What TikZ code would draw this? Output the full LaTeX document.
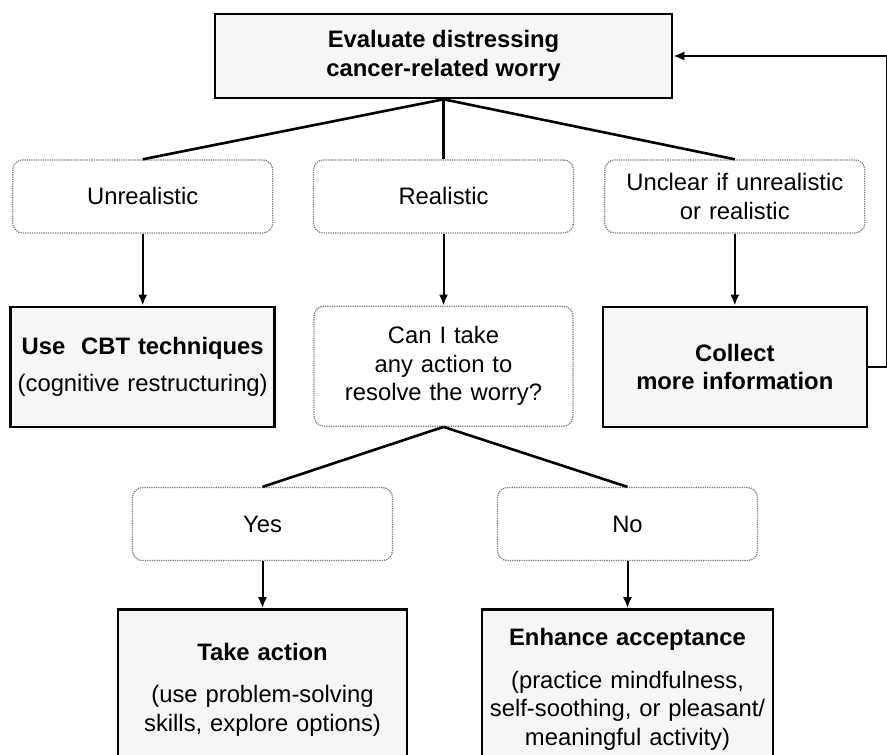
\documentclass[tikz,border=0pt]{standalone}
\usepackage{fontspec}
\setmainfont{Liberation Sans}
\usepackage{tikz}
\usetikzlibrary{arrows.meta,positioning,calc}

\begin{document}
\begin{tikzpicture}[x=1pt, y=1pt, node distance=60pt, auto,
    font=\fontsize{23.8}{28.5}\selectfont,
    >={Latex[length=11pt,width=9pt]},
    boxsolid/.style={rectangle, draw, line width=2.6pt, fill=gray!7, align=center, inner sep=3pt},
    boxdotted/.style={rectangle, draw=black!50, densely dotted, line width=1.3pt, rounded corners=10pt,
      fill=white, align=center, inner sep=3pt, minimum width=260pt, minimum height=73pt},
    link/.style={line width=2.6pt},
    arrow/.style={->, line width=2pt}]
  \useasboundingbox (0,0) rectangle (887,755);

  \node (eval) [boxsolid, minimum width=457pt, minimum height=84pt] at (443.5,699)
    {\textbf{Evaluate distressing}\\\textbf{cancer-related worry}};
  \node (real) [boxdotted, below=60pt of eval] {Realistic};
  \node (unreal) [boxdotted, left=39.5pt of real] {Unrealistic};
  \node (unclear) [boxdotted, right=30pt of real, text width=250pt] {Unclear if unrealistic\\or realistic};

  \node (cbt) [boxsolid, below=72pt of unreal, minimum width=264pt, minimum height=120pt, text width=256pt]
    {\textbf{Use\ \ CBT techniques}\\[9pt](cognitive restructuring)};
  \node (action) [boxdotted, below=72pt of real, minimum width=259pt, minimum height=120pt, text width=250pt]
    {Can I take\\any action to\\resolve the worry?};
  \node (collect) [boxsolid, below=72pt of unclear, minimum width=264pt, minimum height=120pt, text width=256pt]
    {\textbf{Collect}\\\textbf{more information}};

  \node (yes) [boxdotted, below=60pt of action, xshift=-181pt] {Yes};
  \node (no) [boxdotted, below=60pt of action, xshift=184pt] {No};

  \node (take) [boxsolid, below=47pt of yes, minimum width=289pt, minimum height=160pt, text width=281pt]
    {\textbf{Take action}\\[14pt](use problem-solving\\skills, explore options)};
  \node (accept) [boxsolid, below=47pt of no, minimum width=291pt, minimum height=160pt, text width=283pt]
    {\textbf{Enhance acceptance}\\[14pt](practice mindfulness,\\self-soothing, or pleasant/\\meaningful activity)};

  \draw[link] (eval.south) -- (unreal.north);
  \draw[link] (eval.south) -- (real.north);
  \draw[link] (eval.south) -- (unclear.north);
  \draw[arrow] (unreal) -- (cbt);
  \draw[arrow] (real) -- (action);
  \draw[arrow] (unclear) -- (collect);
  \draw[link] (action.south) -- (yes.north);
  \draw[link] (action.south) -- (no.north);
  \draw[arrow] (yes) -- (take);
  \draw[arrow] (no) -- (accept);
  % loop back to the start
  \draw[arrow] (collect.east) -- ++(18.5,0) |- (eval.east);
\end{tikzpicture}
\end{document}
